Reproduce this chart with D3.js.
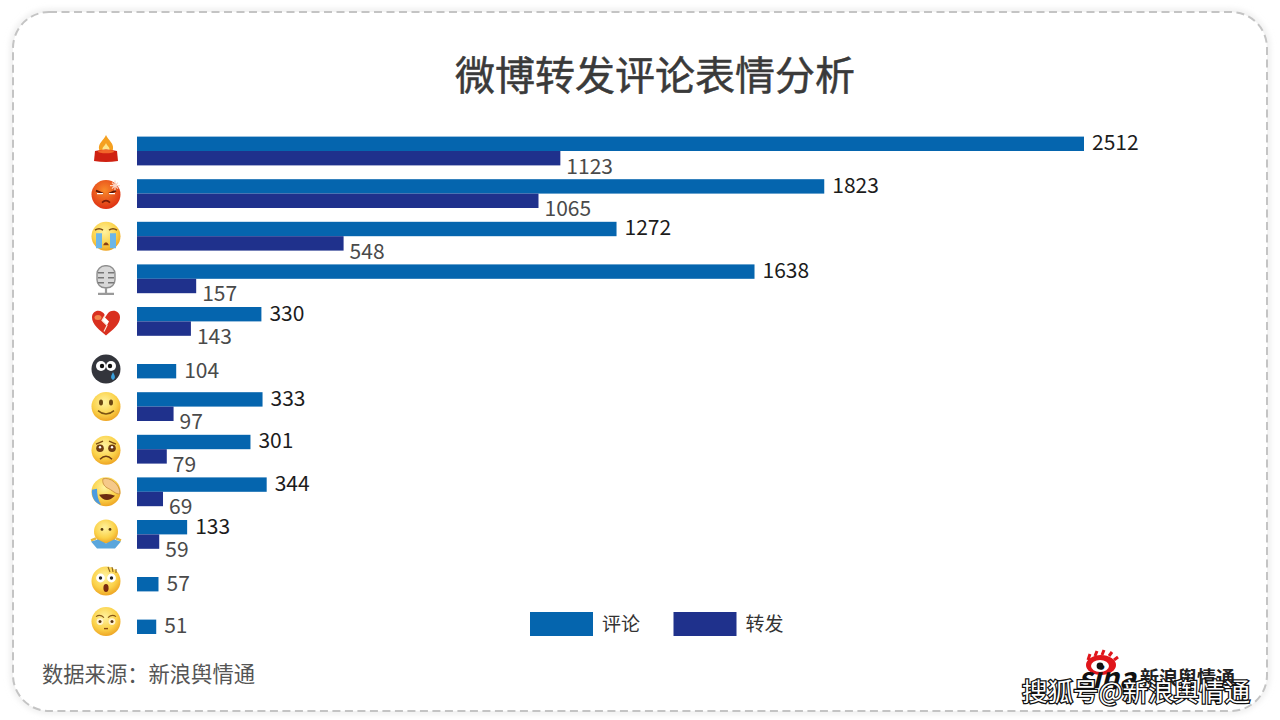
<!DOCTYPE html>
<html>
<head>
<meta charset="utf-8">
<script src="https://cdn.jsdelivr.net/npm/d3@7"></script>
<style>
    html, body { margin: 0; padding: 0; background: #fff; }
    svg { display: block; }
    text { font-family: "Noto Sans CJK SC", "Noto Sans", sans-serif; }
</style>
</head>
<body>
<div id="chart"></div>
<script>
// Emoji categories, top to bottom
const categories = ["蜡烛", "怒", "泪", "话筒", "伤心", "黑泪", "微笑", "可怜", "笑哭", "摊手", "吃惊", "害羞"];
const comments = [2512, 1823, 1272, 1638, 330, 104, 333, 301, 344, 133, 57, 51];
const reposts = [1123, 1065, 548, 157, 143, null, 97, 79, 69, 59, null, null];
const seriesNames = ["评论", "转发"];
const seriesColors = ["#0565ae", "#1f318c"];

const width = 1280;
const height = 720;
const barHeight = 14.4;

const svg = d3.select("#chart").append("svg")
    .attr("width", width)
    .attr("height", height);

const defs = svg.append("defs");

const shadow = defs.append("filter").attr("id", "soft")
    .attr("x", "-3%").attr("y", "-3%").attr("width", "106%").attr("height", "106%");
shadow.append("feGaussianBlur").attr("stdDeviation", 3);

const yellow = defs.append("radialGradient").attr("id", "yellow")
    .attr("cx", "45%").attr("cy", "35%").attr("r", "70%");
yellow.append("stop").attr("offset", "0%").attr("stop-color", "#fff3a0");
yellow.append("stop").attr("offset", "60%").attr("stop-color", "#fbd24a");
yellow.append("stop").attr("offset", "100%").attr("stop-color", "#eb9c1c");

const angry = defs.append("radialGradient").attr("id", "angry")
    .attr("cx", "45%").attr("cy", "35%").attr("r", "70%");
angry.append("stop").attr("offset", "0%").attr("stop-color", "#f98a2a");
angry.append("stop").attr("offset", "100%").attr("stop-color", "#dc2a12");

// Card frame
svg.append("rect")
    .attr("x", 13).attr("y", 12).attr("width", 1254).attr("height", 699).attr("rx", 36)
    .attr("fill", "none").attr("stroke", "#e4e4e4").attr("stroke-width", 4)
    .attr("filter", "url(#soft)");
svg.append("rect")
    .attr("x", 13).attr("y", 12).attr("width", 1254).attr("height", 699).attr("rx", 36)
    .attr("fill", "#fff").attr("stroke", "#c4c4c4").attr("stroke-width", 2)
    .attr("stroke-dasharray", "8 4.5");

svg.append("text")
    .attr("x", 655).attr("y", 90)
    .attr("text-anchor", "middle")
    .attr("font-size", 40)
    .attr("fill", "#3a3a3a")
    .attr("stroke", "#3a3a3a")
    .attr("stroke-width", 0.5)
    .text("微博转发评论表情分析");

// Scales
const x = d3.scaleLinear().domain([0, 2512]).range([137, 1084]);
const y = d3.scalePoint().domain(categories).range([151, 619.6]);

const rows = categories.map((name, i) => ({ name, comment: comments[i], repost: reposts[i] }));

// Single-series rows sit in the lower slot
const commentTop = d => d.repost === null ? y(d.name) : y(d.name) - barHeight;

const barsG = svg.append("g");

barsG.selectAll(".comment-bar")
    .data(rows)
    .enter().append("rect")
    .attr("class", "comment-bar")
    .attr("x", x(0))
    .attr("y", commentTop)
    .attr("width", d => x(d.comment) - x(0))
    .attr("height", barHeight)
    .attr("fill", seriesColors[0]);

barsG.selectAll(".repost-bar")
    .data(rows.filter(d => d.repost !== null))
    .enter().append("rect")
    .attr("class", "repost-bar")
    .attr("x", x(0))
    .attr("y", d => y(d.name))
    .attr("width", d => x(d.repost) - x(0))
    .attr("height", barHeight)
    .attr("fill", seriesColors[1]);

// Value labels
barsG.selectAll(".comment-label")
    .data(rows)
    .enter().append("text")
    .attr("class", "comment-label")
    .attr("x", d => x(d.comment) + 8)
    .attr("y", d => commentTop(d) + barHeight / 2 - 1)
    .attr("dy", "0.35em")
    .attr("font-size", 21)
    .attr("fill", d => d.repost === null ? "#4a4a4a" : "#1c1c1c")
    .text(d => d.comment);

barsG.selectAll(".repost-label")
    .data(rows.filter(d => d.repost !== null))
    .enter().append("text")
    .attr("class", "repost-label")
    .attr("x", d => x(d.repost) + 6)
    .attr("y", d => y(d.name) + barHeight / 2 + 8)
    .attr("dy", "0.35em")
    .attr("font-size", 21)
    .attr("fill", "#4a4a4a")
    .text(d => d.repost);

// Emoji row icons, drawn in a box around (0,0) with radius 15
function eyes(g, r, dx, cy, fill) {
    [-dx, dx].forEach(cx => {
        g.append("circle").attr("cx", cx).attr("cy", cy).attr("r", r).attr("fill", fill);
    });
}

function face(g, fill) {
    g.append("circle").attr("r", 14.5).attr("fill", fill || "url(#yellow)");
}

const iconDrawers = {
    "蜡烛": g => {
        g.append("path").attr("d", "M0,-14C-2,-9 -8,-6 -7,0C-6,6 6,6 7,0C8,-6 2,-9 0,-14Z").attr("fill", "#f5a020");
        g.append("path").attr("d", "M0,-6C-1,-3 -4,-2 -3.5,1C-3,3 3,3 3.5,1C4,-2 1,-3 0,-6Z").attr("fill", "#fde58a");
        g.append("path").attr("d", "M-11,2Q0,-1 11,2L12,12Q0,14 -12,12Z").attr("fill", "#cf2112");
        g.append("ellipse").attr("cy", 2.5).attr("rx", 8).attr("ry", 1.8).attr("fill", "#f2662a");
    },
    "怒": g => {
        face(g, "url(#angry)");
        g.append("path").attr("d", "M-10,-4L-3,-1M10,-4L3,-1").attr("stroke", "#5c1505").attr("stroke-width", 1.8);
        g.append("path").attr("d", "M-9,-1H-3M9,-1H3").attr("stroke", "#fff").attr("stroke-width", 1.4);
        g.append("path").attr("d", "M-4,8Q0,4 4,8").attr("stroke", "#7b1c08").attr("stroke-width", 1.6).attr("fill", "none");
        g.append("path").attr("d", "M6,-12L12,-6M12,-12L6,-6M9,-14V-4M4,-9H14").attr("stroke", "#fbd6c4").attr("stroke-width", 1.2);
    },
    "泪": g => {
        face(g);
        g.append("path").attr("d", "M-10,-3H-4V12H-10ZM4,-3H10V12H4Z").attr("fill", "#6cb6e8");
        g.append("path").attr("d", "M-11,-6Q-7,-9 -3,-6M3,-6Q7,-9 11,-6").attr("stroke", "#7a4a12").attr("stroke-width", 1.5).attr("fill", "none");
        g.append("path").attr("d", "M-3,9Q0,3 3,9Z").attr("fill", "#8a3f10");
    },
    "话筒": g => {
        g.append("rect").attr("x", -9).attr("y", -15).attr("width", 18).attr("height", 22).attr("rx", 8)
            .attr("fill", "#d8d8d8").attr("stroke", "#8f8f8f").attr("stroke-width", 1.4);
        g.append("path").attr("d", "M-8,-8H-2M2,-8H8M-8,-3H-2M2,-3H8M-8,2H-2M2,2H8").attr("stroke", "#777").attr("stroke-width", 1.5);
        g.append("path").attr("d", "M0,7V12M-8,13H8").attr("stroke", "#9a9a9a").attr("stroke-width", 2.2);
    },
    "伤心": g => {
        g.append("path").attr("d", "M0,13C-6,8 -14,2 -14,-5C-14,-13 -4,-14 -1,-7L-4,-2L1,3L-2,8L3,-1L-1,-5L1,-8C5,-14 14,-12 14,-5C14,2 6,8 0,13Z")
            .attr("fill", "#d9301f");
        g.append("path").attr("d", "M-1,-7L-4,-2L1,3L-2,9").attr("stroke", "#fbe6d8").attr("stroke-width", 1.2).attr("fill", "none");
        g.append("ellipse").attr("cx", -8).attr("cy", -5).attr("rx", 3.5).attr("ry", 2.5).attr("fill", "#f3854a");
    },
    "黑泪": g => {
        face(g, "#33353c");
        eyes(g, 5, 5, -3, "#fff");
        eyes(g, 2.2, 4, -3, "#111");
        g.append("path").attr("d", "M7,3C5,7 4,9 7,11C10,9 9,7 7,3Z").attr("fill", "#3aa0dc");
    },
    "微笑": g => {
        face(g);
        [-5, 5].forEach(cx => {
            g.append("ellipse").attr("cx", cx).attr("cy", -4).attr("rx", 2).attr("ry", 3).attr("fill", "#6b4712");
        });
        g.append("path").attr("d", "M-8,4Q0,11 8,4").attr("stroke", "#7a5212").attr("stroke-width", 1.4).attr("fill", "none");
    },
    "可怜": g => {
        face(g);
        eyes(g, 3.8, 6, -2, "#6e3c12");
        eyes(g, 1.2, 6, -3, "#fff");
        g.append("path").attr("d", "M-10,-6L-3,-9M10,-6L3,-9").attr("stroke", "#7a4a12").attr("stroke-width", 1.4);
        g.append("path").attr("d", "M-6,9Q0,3 6,9").attr("stroke", "#6e3c12").attr("stroke-width", 1.5).attr("fill", "none");
    },
    "笑哭": g => {
        face(g);
        g.append("path").attr("d", "M-7,3Q0,13 9,4Q3,1 -7,3Z").attr("fill", "#6e2c10");
        g.append("path").attr("d", "M-14,-2C-15,6 -10,12 -5,13C-8,8 -9,3 -9,-3Z").attr("fill", "#4b9be0");
        g.append("path").attr("d", "M-3,-13C4,-15 14,-8 14,2C10,3 6,-2 1,-4C-2,-6 -4,-9 -3,-13Z").attr("fill", "#f5c98a").attr("stroke", "#c78a3a").attr("stroke-width", 0.8);
    },
    "摊手": g => {
        g.append("circle").attr("cy", -3).attr("r", 12).attr("fill", "url(#yellow)");
        eyes(g, 1.4, 4, -5, "#5a3c10");
        g.append("path").attr("d", "M-15,7L-8,5L0,9L8,5L15,7L9,14H-9Z").attr("fill", "#5aa6dc");
        g.append("path").attr("d", "M-15,6L-10,4M15,6L10,4").attr("stroke", "#e8b83c").attr("stroke-width", 2.4);
    },
    "吃惊": g => {
        face(g);
        eyes(g, 4.4, 5.5, -3, "#fff");
        eyes(g, 1.7, 5.5, -3, "#222");
        g.append("ellipse").attr("cy", 7).attr("rx", 2.6).attr("ry", 4).attr("fill", "#7a2a10");
        g.append("path").attr("d", "M2,-14L4,-9M6,-14L7,-9M10,-12L10,-8").attr("stroke", "#8a6420").attr("stroke-width", 1.1);
    },
    "害羞": g => {
        face(g);
        eyes(g, 3.4, 6, 0, "#fff3d0");
        eyes(g, 1.5, 6, 0, "#5a3410");
        g.append("path").attr("d", "M-10,-5Q-6,-8 -2,-4M10,-5Q6,-8 2,-4").attr("stroke", "#8a5a18").attr("stroke-width", 1.1).attr("fill", "none");
        g.append("path").attr("d", "M-2,7H2").attr("stroke", "#8a4a12").attr("stroke-width", 1.4);
    }
};

// Small per-row shifts so the icon sits where the source had it
const iconNudge = [-2, 1, 0, 2, 1, 5, 0, 1, 0, 0, 4, 2];

const iconsG = svg.append("g");
rows.forEach((d, i) => {
    const g = iconsG.append("g")
        .attr("transform", `translate(106,${y(d.name) + iconNudge[i]})`);
    iconDrawers[d.name](g);
});

// Legend
const legend = svg.append("g")
    .selectAll("g")
    .data(seriesNames)
    .enter().append("g")
    .attr("transform", (d, i) => `translate(${530 + i * 143.5},612)`);
legend.append("rect")
    .attr("width", 63).attr("height", 24)
    .attr("fill", (d, i) => seriesColors[i]);
legend.append("text")
    .attr("x", 72).attr("y", 12).attr("dy", "0.35em")
    .attr("font-size", 19).attr("fill", "#333")
    .text(d => d);

// Source note
svg.append("text")
    .attr("x", 42).attr("y", 682)
    .attr("font-size", 21.3).attr("fill", "#555")
    .text("数据来源：新浪舆情通");

// Sina logo: eye with rays, wordmark partly under the watermark
const logo = svg.append("g");
logo.append("path")
    .attr("d", "M1088,660L1090,654M1095,656L1097,651M1102,655L1104,650M1109,656L1112,652M1114,660L1118,657")
    .attr("stroke", "#e0161b").attr("stroke-width", 3);
logo.append("ellipse").attr("cx", 1101).attr("cy", 665).attr("rx", 15).attr("ry", 10).attr("fill", "#e0161b");
logo.append("ellipse").attr("cx", 1100).attr("cy", 666).attr("rx", 9).attr("ry", 6).attr("fill", "#fff");
logo.append("circle").attr("cx", 1100).attr("cy", 666).attr("r", 3.4).attr("fill", "#111");
logo.append("text")
    .attr("x", 1078).attr("y", 688)
    .attr("font-family", "Liberation Sans").attr("font-size", 28).attr("font-weight", 700).attr("font-style", "italic")
    .attr("textLength", 58).attr("lengthAdjust", "spacingAndGlyphs")
    .attr("fill", "#111").text("sina");
logo.append("text")
    .attr("x", 1140).attr("y", 685)
    .attr("font-size", 19).attr("font-weight", 700)
    .attr("fill", "#222").text("新浪舆情通");

// Platform watermark
svg.append("text")
    .attr("x", 1022).attr("y", 701)
    .attr("font-size", 25.5)
    .attr("fill", "#fff").attr("stroke", "#111").attr("stroke-width", 2.5)
    .attr("paint-order", "stroke")
    .text("搜狐号@新浪舆情通");
</script>
</body>
</html>
